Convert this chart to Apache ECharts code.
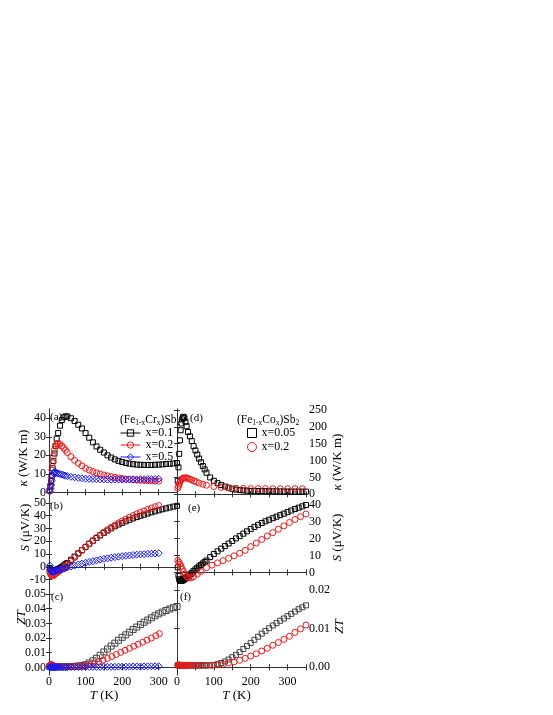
<!DOCTYPE html>
<html>
<head>
<meta charset="utf-8">
<script src="https://cdn.jsdelivr.net/npm/echarts@6/dist/echarts.min.js"></script>
<style>html,body{margin:0;padding:0;background:#fff;}#chart{width:553px;height:715px;}</style>
</head>
<body>
<div id="chart"></div>
<script>
// ---------- temperatures (K) ----------
const tL = [2,4,6,8,10,12,15,18,21,25,30,35,40,45,50,60,70,80,90,100,110,120,130,140,150,160,170,180,190,200,210,220,230,240,250,260,270,280,290,300,310,320,330,340,350];
const tL300 = [2,4,6,8,10,12,15,18,21,25,30,35,40,45,50,60,70,80,90,100,110,120,130,140,150,160,170,180,190,200,210,220,230,240,250,260,270,280,290,300];
const tC2 = [2,4,6,8,10,12,15,18,22,26,30,40,50,60,70,80,90,100,112,124,136,148,160,172,184,196,208,220,232,244,256,268,280,292,302];
const tR = [2,4,6,8,10,12,14,16,18,20,23,26,30,35,40,45,50,55,60,65,70,75,80,90,100,110,120,130,140,150,160,170,180,190,200,210,220,230,240,250,260,270,280,290,300,310,320,330,340,350];
const tD2 = [2,4,6,8,10,13,16,19,22,26,30,35,40,46,52,60,70,80,100,120,140,160,180,200,220,240,260,280,300,320,340];
const tEF = [2,5,8,11,14,18,22,27,32,38,45,55,65,80,95,110,125,140,155,170,185,200,215,230,245,260,275,290,305,320,335,350];

// ---------- (a) kappa, (Fe1-xCrx)Sb2 ----------
const kapCr01 = [1,3,6,9,13,17,21,25,29,32,36,39,40.5,41,41,40,38.5,36.5,34.5,32,29.5,27,24.8,23,21.5,20,18.8,17.8,17,16.4,15.9,15.5,15.2,15.0,14.9,14.8,14.8,14.8,14.9,15.0,15.1,15.3,15.4,15.6,15.8];
const kapCr02 = [1,4,8,12,16,19.5,23,25,26.2,26.5,26,25,24,22.8,21.5,19.2,17.3,15.7,14.3,13,12,11.2,10.5,9.9,9.4,8.9,8.5,8.1,7.8,7.5,7.2,7.0,6.8,6.6,6.5,6.4,6.3,6.2,6.1,6.0];
const kapCr05 = [0.5,2,4,6.5,9,10.5,11,10.8,10.5,10.2,9.9,9.6,9.3,9.0,8.8,8.4,8.1,7.8,7.6,7.4,7.3,7.2,7.1,7.0,7.0,6.9,6.9,6.9,6.9,6.9,6.9,7.0,7.0,7.0,7.1,7.1,7.1,7.2,7.2,7.3];
// ---------- (b) Seebeck ----------
const seeCr01 = [-1,-2,-2.5,-3,-3,-3,-2.8,-2.5,-2.2,-1.8,-1,0,1,2,3,5.5,8,10.5,13,15.5,18,20.3,22.5,24.5,26.5,28.3,30,31.6,33,34.3,35.5,36.7,37.8,38.8,39.8,40.7,41.6,42.5,43.3,44.1,44.9,45.6,46.3,47,47.6];
const seeCr02 = [-4,-5.5,-6.5,-7,-7,-6.8,-6.2,-5.5,-4.8,-4,-3,-2,-0.8,0.5,1.8,4.5,7.2,10,12.8,15.5,18,20.5,22.8,25,27,29,30.8,32.5,34.2,35.8,37.3,38.7,40,41.3,42.5,43.7,44.8,45.9,46.9,47.8];
const seeCr05 = [1,-2,-3.5,-4,-4,-3.8,-3.5,-3.2,-2.9,-2.6,-2.2,-1.8,-1.4,-1,-0.6,0.2,1,1.8,2.5,3.2,3.8,4.4,5,5.6,6.1,6.6,7.1,7.5,7.9,8.3,8.6,8.9,9.2,9.5,9.7,9.9,10.1,10.3,10.4,10.6];
// ---------- (c) ZT ----------
const ztCr01 = [0.0006,0.0005,0.0005,0.0005,0.0005,0.0005,0.0005,0.0005,0.0005,0.0005,0.0005,0.0005,0.0005,0.0005,0.0005,0.0006,0.0007,0.0009,0.0012,0.0018,0.003,0.0045,0.0062,0.0082,0.0105,0.0125,0.0145,0.0165,0.0185,0.0205,0.0222,0.024,0.0258,0.0275,0.0292,0.0308,0.0323,0.0338,0.0352,0.0365,0.0377,0.0388,0.0398,0.0407,0.0415];
const ztCr02 = [0.0012,0.0018,0.002,0.0018,0.0014,0.001,0.0008,0.0006,0.0005,0.0005,0.0005,0.0005,0.0005,0.0005,0.0005,0.0006,0.0008,0.0012,0.0019,0.0028,0.0038,0.0049,0.0061,0.0074,0.0088,0.0102,0.0116,0.013,0.0144,0.0158,0.0172,0.0186,0.02,0.0216,0.023];
const ztCr05 = [0.0002,0.0002,0.0002,0.0002,0.0002,0.0002,0.0002,0.0002,0.0002,0.0002,0.0002,0.0002,0.0002,0.0002,0.0002,0.0002,0.0002,0.0002,0.0002,0.0003,0.0003,0.0003,0.0003,0.0003,0.0004,0.0004,0.0004,0.0004,0.0005,0.0005,0.0005,0.0005,0.0006,0.0006,0.0006,0.0006,0.0007,0.0007,0.0007,0.0008];

// ---------- (d) kappa, (Fe1-xCox)Sb2 ----------
const kapCo005 = [40,80,120,160,190,210,222,228,230,226,215,202,185,172,158,143,130,118,106,95,84,74,64,50,40,33,27.5,23,19.5,16.5,14,12.5,11.5,10.8,10.3,10,9.7,9.5,9.2,9,8.8,8.7,8.5,8.4,8.3,8.2,8.1,8.0,8.0,8.0];
const kapCo02 = [18,24,30,36,41,45,47.5,48.5,49,48.5,47,45,42.5,40,37,33.5,30,27,23,20.5,19,18,17.5,17,17,17,16.5,16.5,16.5,16.5,16.5];
// ---------- (e) Seebeck ----------
const seeCo005 = [3,-2,-4,-4.8,-5,-5,-4.8,-4.6,-4.3,-4,-3.5,-3,-2.2,-1.2,-0.2,0.8,1.8,2.7,3.6,4.4,5.3,6.1,7,9,10.8,12.4,14,15.5,17,18.5,20,21.4,22.8,24.2,25.5,26.8,28,29.1,30.1,31,31.9,32.8,33.7,34.6,35.5,36.4,37.3,38.1,38.9,39.7];
const seeCo02 = [7,6,5,3.5,2,0.5,-1,-2.5,-3.2,-3.2,-2.5,-1,0.5,2.8,4.3,5.6,6.9,8.3,9.8,11.3,13,15.2,17.3,19.4,21.4,23.4,25.4,27.4,29.4,31.2,32.8,34.4];
// ---------- (f) ZT ----------
const ztCo005 = [0.0005,0.0005,0.0005,0.0005,0.0005,0.0005,0.0005,0.0005,0.0005,0.0005,0.0005,0.0005,0.0005,0.0005,0.0005,0.0005,0.0005,0.0005,0.0005,0.0005,0.0005,0.0005,0.0005,0.0005,0.0006,0.0008,0.0011,0.0015,0.002,0.0026,0.0032,0.0039,0.0047,0.0055,0.0063,0.0071,0.0079,0.0087,0.0094,0.0101,0.0108,0.0114,0.012,0.0126,0.0132,0.0138,0.0144,0.015,0.0155,0.016];
const ztCo02 = [0.0006,0.0006,0.0006,0.0005,0.0005,0.0005,0.0005,0.0005,0.0005,0.0005,0.0005,0.0005,0.0005,0.0005,0.0005,0.0006,0.0008,0.0011,0.0014,0.0018,0.0023,0.0029,0.0035,0.0042,0.0049,0.0057,0.0064,0.0072,0.008,0.009,0.0099,0.0109];

// ---------- tick labels ----------
const xTickLabels = [0,100,200,300];
const xTickMarks = [0,50,100,150,200,250,300,350];
const yTicksA = [0,10,20,30,40];
const yTicksB = [-10,0,10,20,30,40,50];
const yTicksC = [0,0.01,0.02,0.03,0.04,0.05];
const yTicksD = [0,50,100,150,200,250];
const yTicksE = [0,10,20,30,40];
const yTicksF = [0,0.01,0.02];

const FONT = 'Liberation Serif';
const AX = '#333';
const BLACK = '#000', RED = '#f01818', BLUE = '#1818f0';

const grids = [
  {left:49, top:409, width:128, height:88},
  {left:177, top:409, width:129, height:88},
  {left:49, top:497, width:128, height:89},
  {left:177, top:497, width:129, height:89},
  {left:49, top:586, width:128, height:89},
  {left:177, top:586, width:129, height:89}
];
// pad: [left, right] padding of the rotated axis name (shifts it along the axis)
const yCfg = [
  {min:-2.5, max:45, ticks:yTicksA, name:'{i|κ} (W/K m)', gap:19, dec:0, pad:[0,10]},
  {min:-8, max:253, ticks:yTicksD, name:'{i|κ} (W/K m)', gap:25, dec:0, pad:[0,18]},
  {min:-15, max:54.5, ticks:yTicksB, name:'{i|S} (μV/K)', gap:17, dec:0, pad:[28,0]},
  {min:-8, max:44.4, ticks:yTicksE, name:'{i|S} (μV/K)', gap:25, dec:0, pad:[8,0]},
  {min:-0.0052, max:0.0555, ticks:yTicksC, name:'{i|ZT}', gap:21, dec:2, pad:[26,0]},
  {min:-0.002, max:0.021, ticks:yTicksF, name:'{i|ZT}', gap:27, dec:2, pad:[8,0]}
];

const richI = {i:{fontStyle:'italic', fontFamily:FONT, fontSize:13}};
const xAxes = [], yAxes = [];
grids.forEach((g, i) => {
  const bottomRow = i >= 4;
  const tick = {show:true, inside:true, length:3, lineStyle:{color:AX}, customValues:xTickMarks};
  xAxes.push({
    gridIndex:i, type:'value', min:0, max:350, position:'bottom',
    axisLine:{show:true, lineStyle:{color:AX, width:1}},
    axisTick:tick,
    axisLabel:{show:bottomRow, customValues:xTickLabels, margin:1, color:'#000', fontFamily:FONT, fontSize:12},
    splitLine:{show:false},
    name: bottomRow ? '{i|T} (K)' : '', nameLocation:'middle', nameGap:14, nameMoveOverlap:false,
    nameTextStyle:{color:'#000', fontFamily:FONT, fontSize:13, rich:richI, padding:[0, i === 4 ? 18 : 10, 0, 0]}
  });
  xAxes.push({
    gridIndex:i, type:'value', min:0, max:350, position:'top',
    axisLine:{show:true, lineStyle:{color:AX, width:1}},
    axisTick:tick, axisLabel:{show:false}, splitLine:{show:false}
  });
  const c = yCfg[i];
  const right = i % 2 === 1;
  const ytick = {show:true, inside:true, length:3, lineStyle:{color:AX}, customValues:c.ticks};
  yAxes.push({
    gridIndex:i, type:'value', min:c.min, max:c.max, position: right ? 'right' : 'left',
    axisLine:{show:true, lineStyle:{color:AX, width:1}},
    axisTick:ytick,
    axisLabel:{show:true, customValues:c.ticks, margin:3, color:'#000', fontFamily:FONT, fontSize:12,
      formatter: v => c.dec ? v.toFixed(c.dec) : String(Math.round(v))},
    splitLine:{show:false},
    name:c.name, nameLocation:'middle', nameRotate:90, nameGap:c.gap, nameMoveOverlap:false,
    nameTextStyle:{color:'#000', fontFamily:FONT, fontSize:13, rich:richI, padding:[0, c.pad[1], 0, c.pad[0]]}
  });
  yAxes.push({
    gridIndex:i, type:'value', min:c.min, max:c.max, position: right ? 'left' : 'right',
    axisLine:{show:true, lineStyle:{color:AX, width:1}},
    axisTick:ytick, axisLabel:{show:false}, splitLine:{show:false}
  });
});

const pts = (t, v) => t.map((x, k) => [x, v[k]]);
function mk(name, grid, t, v, color, symbol, size) {
  return {
    name, type:'line', xAxisIndex:grid*2, yAxisIndex:grid*2, data:pts(t, v),
    symbol, symbolSize:size, showSymbol:true, silent:true,
    lineStyle:{color, width:0, opacity:0},
    itemStyle:{color:'transparent', borderColor:color, borderWidth:1}
  };
}
const series = [
  mk('Cr x=0.1', 0, tL, kapCr01, BLACK, 'rect', 5),
  mk('Cr x=0.2', 0, tL300, kapCr02, RED, 'circle', 6),
  mk('Cr x=0.5', 0, tL300, kapCr05, BLUE, 'diamond', 7),
  mk('Cr x=0.1', 2, tL, seeCr01, BLACK, 'rect', 5),
  mk('Cr x=0.2', 2, tL300, seeCr02, RED, 'circle', 6),
  mk('Cr x=0.5', 2, tL300, seeCr05, BLUE, 'diamond', 7),
  mk('Cr x=0.1', 4, tL, ztCr01, '#444', 'rect', 6),
  mk('Cr x=0.2', 4, tC2, ztCr02, RED, 'circle', 6),
  mk('Cr x=0.5', 4, tL300, ztCr05, BLUE, 'diamond', 7),
  mk('Co x=0.05', 1, tR, kapCo005, BLACK, 'rect', 5),
  mk('Co x=0.2', 1, tD2, kapCo02, RED, 'circle', 6),
  mk('Co x=0.05', 3, tR, seeCo005, BLACK, 'rect', 5),
  mk('Co x=0.2', 3, tEF, seeCo02, RED, 'circle', 6),
  mk('Co x=0.05', 5, tR, ztCo005, '#444', 'rect', 5),
  mk('Co x=0.2', 5, tEF, ztCo02, RED, 'circle', 6)
];

const legTxt = {color:'#000', fontFamily:FONT, fontSize:12, lineHeight:12};
const legItem = {color:'transparent', borderWidth:1};
const legends = [
  {
    orient:'vertical', left:120, top:427, itemWidth:20, itemHeight:8, itemGap:0, padding:0,
    textStyle:legTxt, formatter: n => n.slice(3), selectedMode:false, itemStyle:legItem,
    data:[
      {name:'Cr x=0.1', lineStyle:{color:BLACK, width:1, opacity:1}, itemStyle:{borderColor:BLACK}},
      {name:'Cr x=0.2', lineStyle:{color:RED, width:1, opacity:1}, itemStyle:{borderColor:RED}},
      {name:'Cr x=0.5', lineStyle:{color:BLUE, width:1, opacity:1}, itemStyle:{borderColor:BLUE}}
    ]
  },
  {
    orient:'vertical', left:247, top:427, itemWidth:9, itemHeight:9, itemGap:2, padding:0,
    textStyle:legTxt, formatter: n => n.slice(3), selectedMode:false, itemStyle:legItem,
    data:[{name:'Co x=0.05', icon:'rect', itemStyle:{borderColor:BLACK}}, {name:'Co x=0.2', icon:'circle', itemStyle:{borderColor:RED}}]
  }
];

const subRich = {
  m:{fontFamily:FONT, fontSize:11.5, color:'#000', lineHeight:14},
  s:{fontFamily:FONT, fontSize:7.5, color:'#000', lineHeight:14, verticalAlign:'bottom', padding:[5,0,0,0]}
};
function label(x, y, t) {
  return {type:'text', left:x, top:y, silent:true, style:{text:t, font:'11px "Liberation Serif"', fill:'#000'}};
}
const graphic = [
  label(50, 412, '(a)'), label(190, 413, '(d)'),
  label(50, 501, '(b)'), label(188, 503, '(e)'),
  label(51, 592, '(c)'), label(180, 592, '(f)'),
  {type:'text', left:120, top:414, silent:true,
   style:{text:'{m|(Fe}{s|1-x}{m|Cr}{s|x}{m|)Sb}{s|2}', rich:subRich}},
  {type:'text', left:237, top:414, silent:true,
   style:{text:'{m|(Fe}{s|1-x}{m|Co}{s|x}{m|)Sb}{s|2}', rich:subRich}}
];

const chart = echarts.init(document.getElementById('chart'), null, {renderer:'canvas'});
chart.setOption({
  animation:false,
  backgroundColor:'#fff',
  grid:grids,
  xAxis:xAxes, yAxis:yAxes,
  legend:legends,
  graphic,
  series
});
</script>
</body>
</html>
